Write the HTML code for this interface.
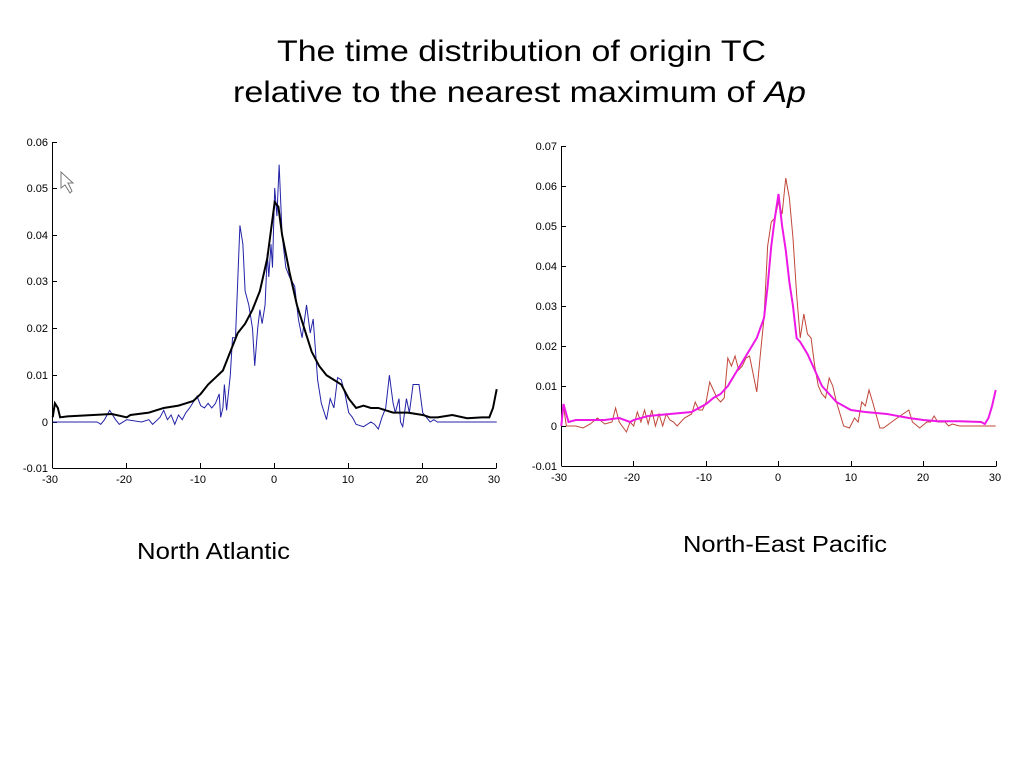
<!DOCTYPE html>
<html><head><style>
body{margin:0;background:#fff;width:1024px;height:768px;overflow:hidden;font-family:"Liberation Sans",Arial,sans-serif}
svg text{font-family:"Liberation Sans",Arial,sans-serif}
</style></head><body>
<svg width="1024" height="768" viewBox="0 0 1024 768">
<text x="277" y="61" font-size="30" textLength="489" lengthAdjust="spacingAndGlyphs">The time distribution of origin TC</text>
<text x="233" y="102" font-size="30" textLength="573" lengthAdjust="spacingAndGlyphs">relative to the nearest maximum of <tspan font-style="italic">Ap</tspan></text>

<!-- Left axes -->
<g stroke="#000" stroke-width="1" fill="none">
<line x1="52.5" y1="142" x2="52.5" y2="468"/>
<line x1="52.5" y1="468.5" x2="496.5" y2="468.5"/>
<line x1="52" y1="142.5" x2="57" y2="142.5"/><line x1="52" y1="188.5" x2="57" y2="188.5"/><line x1="52" y1="235.5" x2="57" y2="235.5"/><line x1="52" y1="281.5" x2="57" y2="281.5"/><line x1="52" y1="328.5" x2="57" y2="328.5"/><line x1="52" y1="375.5" x2="57" y2="375.5"/><line x1="52" y1="422.5" x2="57" y2="422.5"/>
<line x1="126.5" y1="468" x2="126.5" y2="463"/><line x1="200.5" y1="468" x2="200.5" y2="463"/><line x1="274.5" y1="468" x2="274.5" y2="463"/><line x1="348.5" y1="468" x2="348.5" y2="463"/><line x1="422.5" y1="468" x2="422.5" y2="463"/><line x1="496.5" y1="468" x2="496.5" y2="463"/>
</g>
<g font-size="11" text-anchor="end">
<text x="48" y="146">0.06</text><text x="48" y="192">0.05</text><text x="48" y="239">0.04</text><text x="48" y="285">0.03</text><text x="48" y="332">0.02</text><text x="48" y="379">0.01</text><text x="48" y="426">0</text><text x="48" y="472">-0.01</text>
</g>
<g font-size="11" text-anchor="middle">
<text x="50" y="483">-30</text><text x="124" y="483">-20</text><text x="198" y="483">-10</text><text x="274" y="483">0</text><text x="348" y="483">10</text><text x="422" y="483">20</text><text x="494" y="483">30</text>
</g>
<path d="M61 172 L61 188 L65 185 L70 193 L72 191 L68 183 L73 183 Z" fill="#fff" stroke="#777" stroke-width="1"/>
<g transform="translate(274.7,422) scale(7.4,-4.68)" fill="none">
<polyline vector-effect="non-scaling-stroke" stroke="#2323a8" stroke-width="1" points="-30,0 -24,0 -23.5,-0.5 -23,0.5 -22.3,2.5 -21.5,0.5 -21,-0.5 -20,0.5 -18,0 -17,0.5 -16.5,-0.5 -15.5,1 -15,2.5 -14.5,0.5 -14,1.5 -13.5,-0.5 -13,1.5 -12.5,0.5 -12,2 -11.5,3 -10.5,5.5 -10,3.5 -9.5,3 -9,4 -8.5,3 -8,4 -7.5,6 -7.3,1 -7,3 -6.8,8 -6.5,2.5 -6.2,7 -6,10 -5.7,18 -5.3,18 -5,30 -4.7,42 -4.3,38 -4,28 -3.5,25 -3,20 -2.7,12 -2.3,20 -2,24 -1.7,21 -1.3,25 -1,36 -0.8,31 -0.5,38 -0.3,33 0,50 0.3,44 0.6,55 1,40 1.5,33 2,31 2.7,29 3.2,22 3.7,18 4.3,25 4.8,19 5.2,22 5.8,9 6.3,4 7,0.5 7.5,5 8,3 8.5,9.5 9,9 9.5,6 10,2 10.5,1 11,-0.5 12,-1 13,0 13.5,-0.5 14,-1.5 14.5,1 15,3 15.5,10 16,4 16.3,2 16.8,5 17,0 17.3,-1 17.8,5 18.2,2 18.7,8 19.5,8 20,2 20.5,1 21,0 21.5,0.5 22,0 30,0"/>
<polyline vector-effect="non-scaling-stroke" stroke="#000" stroke-width="2" points="-30,1 -29.7,4 -29.3,3 -29,1 -28,1.2 -22,1.7 -20,1 -19.5,1.5 -17,2 -15,3 -13,3.5 -12,4 -11,4.5 -10,6 -9,8 -8,9.5 -7,11 -6,15 -5,19 -4,21 -3,24 -2,28 -1,35 0,47 0.5,46 1,40 2,32 3,25 4,20 5,15 6,12 7,10 8,9 9,8 10,5 11,3 12,3.5 13,3 14,3 15,2.5 16,2 18,2 20,1.5 21,1 22,1 24,1.5 26,0.8 28,1 29,1 29.5,3 30,7"/>
</g>

<!-- Right axes -->
<g stroke="#000" stroke-width="1" fill="none">
<line x1="561.5" y1="146" x2="561.5" y2="466"/>
<line x1="561.5" y1="466.5" x2="996.5" y2="466.5"/>
<line x1="561" y1="146.5" x2="566" y2="146.5"/><line x1="561" y1="186.5" x2="566" y2="186.5"/><line x1="561" y1="226.5" x2="566" y2="226.5"/><line x1="561" y1="266.5" x2="566" y2="266.5"/><line x1="561" y1="306.5" x2="566" y2="306.5"/><line x1="561" y1="346.5" x2="566" y2="346.5"/><line x1="561" y1="386.5" x2="566" y2="386.5"/><line x1="561" y1="426.5" x2="566" y2="426.5"/>
<line x1="633.5" y1="466" x2="633.5" y2="461"/><line x1="706.5" y1="466" x2="706.5" y2="461"/><line x1="778.5" y1="466" x2="778.5" y2="461"/><line x1="851.5" y1="466" x2="851.5" y2="461"/><line x1="923.5" y1="466" x2="923.5" y2="461"/><line x1="996.5" y1="466" x2="996.5" y2="461"/>
</g>
<g font-size="11" text-anchor="end">
<text x="557" y="150">0.07</text><text x="557" y="190">0.06</text><text x="557" y="230">0.05</text><text x="557" y="270">0.04</text><text x="557" y="310">0.03</text><text x="557" y="350">0.02</text><text x="557" y="390">0.01</text><text x="557" y="430">0</text><text x="557" y="470">-0.01</text>
</g>
<g font-size="11" text-anchor="middle">
<text x="559" y="481">-30</text><text x="632" y="481">-20</text><text x="704" y="481">-10</text><text x="778" y="481">0</text><text x="851" y="481">10</text><text x="923" y="481">20</text><text x="995" y="481">30</text>
</g>
<g transform="translate(778.5,426) scale(7.24,-4)" fill="none">
<polyline vector-effect="non-scaling-stroke" stroke="#c0473a" stroke-width="1" points="-30,0 -29.7,5 -29.3,0 -28,0 -27,-0.5 -26,0.5 -25,2 -24,0.5 -23,1 -22.5,4.5 -22,1 -21,-1.5 -20.5,1 -20,0 -19.5,3.5 -19,1 -18.5,4 -18,0.5 -17.5,4 -17,0 -16.5,3 -16,0 -15.5,3 -15,1.5 -14.5,1 -14,0 -13,2 -12,3 -11.5,6 -11,4 -10.5,4 -10,6 -9.5,11 -9,9 -8.5,7 -8,6 -7.5,7 -7,17 -6.5,15 -6,17.5 -5.5,14 -5,15 -4.5,17 -4,17.5 -3.5,13 -3,8.5 -2.5,18 -2,27 -1.5,45 -1,51 -0.5,52 0,56 0.5,53 1,62 1.5,57 2,47 2.5,33 3,22 3.5,28 4,23 4.5,22 5,15 5.5,10 6,8 6.5,7 7,12 7.5,10 8,6 9,0 9.8,-0.5 10.5,2 11,1 11.5,6 12,5 12.5,9 13,6 14,-0.5 14.5,-0.5 16,1.5 18,4 18.5,1 19.5,-0.5 20.5,1 21,1 21.5,2.5 22,1 23,1 23.5,0 24,0.5 25,0 30,0"/>
<polyline vector-effect="non-scaling-stroke" stroke="#ee18e6" stroke-width="2" points="-30,0 -29.7,5.5 -29,1 -28,1.5 -24,1.5 -22,2 -20.5,1 -20,1.5 -18,2.5 -15,3 -12,3.5 -10,5.5 -9,7 -8,8 -7,10 -6,13 -5,16 -4,19 -3,22 -2,27 -1.5,35 -1,45 -0.5,52 0,58 0.5,50 1,44 1.5,36 2,30 2.5,22 3,21 4,18 5,14 6,10 7,8 8,6 9,5 10,4 12,3.5 15,3 18,2 20,1.5 22,1.2 25,1.2 28,1 28.5,0.5 29,2 29.5,5 30,9"/>
</g>

<text x="137" y="559" font-size="23" textLength="153" lengthAdjust="spacingAndGlyphs">North Atlantic</text>
<text x="683" y="552" font-size="23" textLength="204" lengthAdjust="spacingAndGlyphs">North-East Pacific</text>
</svg>
</body></html>
